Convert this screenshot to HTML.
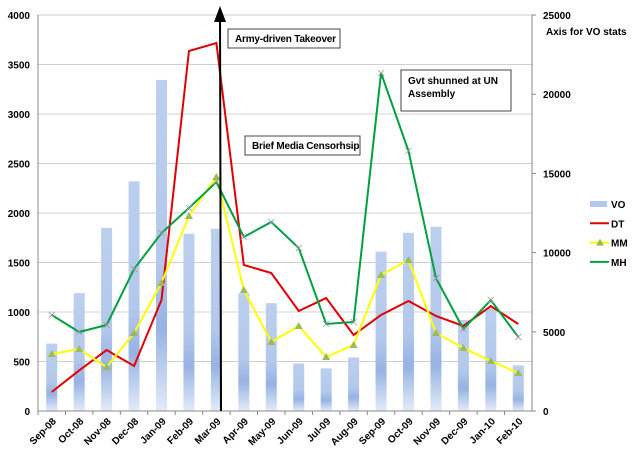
<!DOCTYPE html>
<html><head><meta charset="utf-8"><style>
body{margin:0;background:#fff;}
svg text{font-family:"Liberation Sans",sans-serif;font-weight:bold;font-size:10px;fill:#000;}
</style></head><body>
<svg id="c" width="640" height="465">
<defs>
<linearGradient id="bg" x1="0" y1="0" x2="0" y2="1">
<stop offset="0" stop-color="#bccfee"/><stop offset="0.55" stop-color="#b4c8ec"/>
<stop offset="0.75" stop-color="#97b3e3"/><stop offset="1" stop-color="#e3ebf8"/>
</linearGradient>
<marker id="ah" markerWidth="8" markerHeight="8" refX="4" refY="4" orient="auto"><path d="M0,1 L8,4 L0,7Z" fill="#000"/></marker>
</defs>
<g id="grid"></g><g id="bars"></g><g id="lines"></g><g id="axes"></g>
<line x1="221" y1="411" x2="220" y2="14" stroke="#000" stroke-width="2" marker-end="url(#ah)"/>
<g><rect x="228" y="29" width="112" height="19" fill="#fff" stroke="#444"/><text x="235" y="42" font-size="8.5" letter-spacing="-0.2">Army-driven Takeover</text></g>
<g><rect x="245" y="136" width="115" height="19" fill="#fff" stroke="#444"/><text x="252" y="149" font-size="8.5" letter-spacing="-0.2">Brief Media Censorhsip</text></g>
<g><rect x="401" y="70" width="110" height="41" fill="#fff" stroke="#444"/><text x="408" y="84" font-size="8.5">Gvt shunned at UN</text><text x="408" y="97" font-size="8.5">Assembly</text></g>
<text x="546" y="35" font-size="8">Axis for VO stats</text>
<g id="legend"></g>
</svg>
<script>
const cats=["Sep-08","Oct-08","Nov-08","Dec-08","Jan-09","Feb-09","Mar-09","Apr-09","May-09","Jun-09","Jul-09","Aug-09","Sep-09","Oct-09","Nov-09","Dec-09","Jan-10","Feb-10"];
const vo=[4250,7440,11560,14500,20900,11190,11500,7440,6810,3000,2690,3380,10060,11250,11630,5750,6500,2880];
const dt=[192,410,616,455,1121,3636,3717,1475,1394,1010,1141,768,970,1111,960,859,1060,879];
const mm=[576,626,444,788,1293,1970,2364,1222,697,859,545,667,1374,1525,788,636,505,384];
const mh=[970,798,869,1434,1798,2050,2313,1758,1909,1646,879,899,3414,2626,1343,828,1121,747];
const leftTicks=[0,500,1000,1500,2000,2500,3000,3500,4000];
const rightTicks=[0,5000,10000,15000,20000,25000];
const NS="http://www.w3.org/2000/svg";
const X0=38,X1=532,Y0=411,Y1=15;
const bw=(X1-X0)/cats.length;
const xs=i=>X0+bw*(i+0.5);
const yl=v=>Y0-(v/4000)*(Y0-Y1);
const yr=v=>Y0-(v/25000)*(Y0-Y1);
function mk(t,a,p){const e=document.createElementNS(NS,t);for(const k in a)e.setAttribute(k,a[k]);p.appendChild(e);return e;}
const g=document.getElementById('grid'),b=document.getElementById('bars'),l=document.getElementById('lines'),ax=document.getElementById('axes'),lg=document.getElementById('legend');
leftTicks.forEach(v=>{
 const ln=mk('line',{x1:X0,x2:X1,y1:yl(v),y2:yl(v),stroke:'#d0d0d0'},g);
 
 
 const t=mk('text',{x:30,y:yl(v)+4,'text-anchor':'end'},ax);t.textContent=v;
 
 
});
rightTicks.forEach(v=>{
 mk('line',{x1:X1,x2:X1+4,y1:yr(v),y2:yr(v),stroke:'#888'},ax);
 const t=mk('text',{x:543,y:yr(v)+4},ax);t.textContent=v;
 
 
});
mk('line',{x1:X0,x2:X0,y1:Y1,y2:Y0,stroke:'#888'},ax);
mk('line',{x1:X1,x2:X1,y1:Y1,y2:Y0,stroke:'#888'},ax);
mk('line',{x1:X0,x2:X1,y1:Y0,y2:Y0,stroke:'#888'},ax);
cats.forEach((c,i)=>{
 mk('line',{x1:X0+bw*i,x2:X0+bw*i,y1:Y0,y2:Y0+4,stroke:'#888'},ax);
 const t=mk('text',{transform:`translate(${xs(i)+5},${Y0+11}) rotate(-45)`,'text-anchor':'end','font-size':'9.5'},ax);t.textContent=c;
 
 
 const r=mk('rect',{x:xs(i)-5.5,y:yr(vo[i]),width:11,height:Y0-yr(vo[i]),fill:'url(#bg)'},b);
 
 
});
function line(data,color,name,marker){
 const p=mk('polyline',{points:data.map((v,i)=>xs(i)+','+yl(v)).join(' '),fill:'none',stroke:color,'stroke-width':2},l);
 
 
 data.forEach((v,i)=>{
  const x=xs(i),y=yl(v);
  if(marker==='tri'){const m=mk('path',{d:`M${x},${y-4} L${x+4},${y+3} L${x-4},${y+3}Z`,fill:'#9bbb59'},l);
   }
  if(marker==='x'){const m=mk('path',{d:`M${x-3},${y-3} L${x+3},${y+3} M${x-3},${y+3} L${x+3},${y-3}`,stroke:'#999','stroke-width':0.8},l);
   }
 });
}
line(dt,'#e00000','line-dt');
line(mm,'#ffff00','line-mm','tri');
line(mh,'#00a040','line-mh','x');
const leg=[['VO','bar'],['DT','#e00000'],['MM','#ffff00'],['MH','#00a040']];
leg.forEach((e,i)=>{
 const y=204+i*19.3;
 if(e[1]==='bar')mk('rect',{x:590,y:y-3,width:17,height:6,fill:'#b4c8ec'},lg);
 else mk('line',{x1:590,x2:609,y1:y,y2:y,stroke:e[1],'stroke-width':2},lg);
 if(i===2)mk('path',{d:`M600,${y-4} L604,${y+3} L596,${y+3}Z`,fill:'#9bbb59'},lg);
 const t=mk('text',{x:611,y:y+4},lg);t.textContent=e[0];
 
 
});
</script>
</body></html>
